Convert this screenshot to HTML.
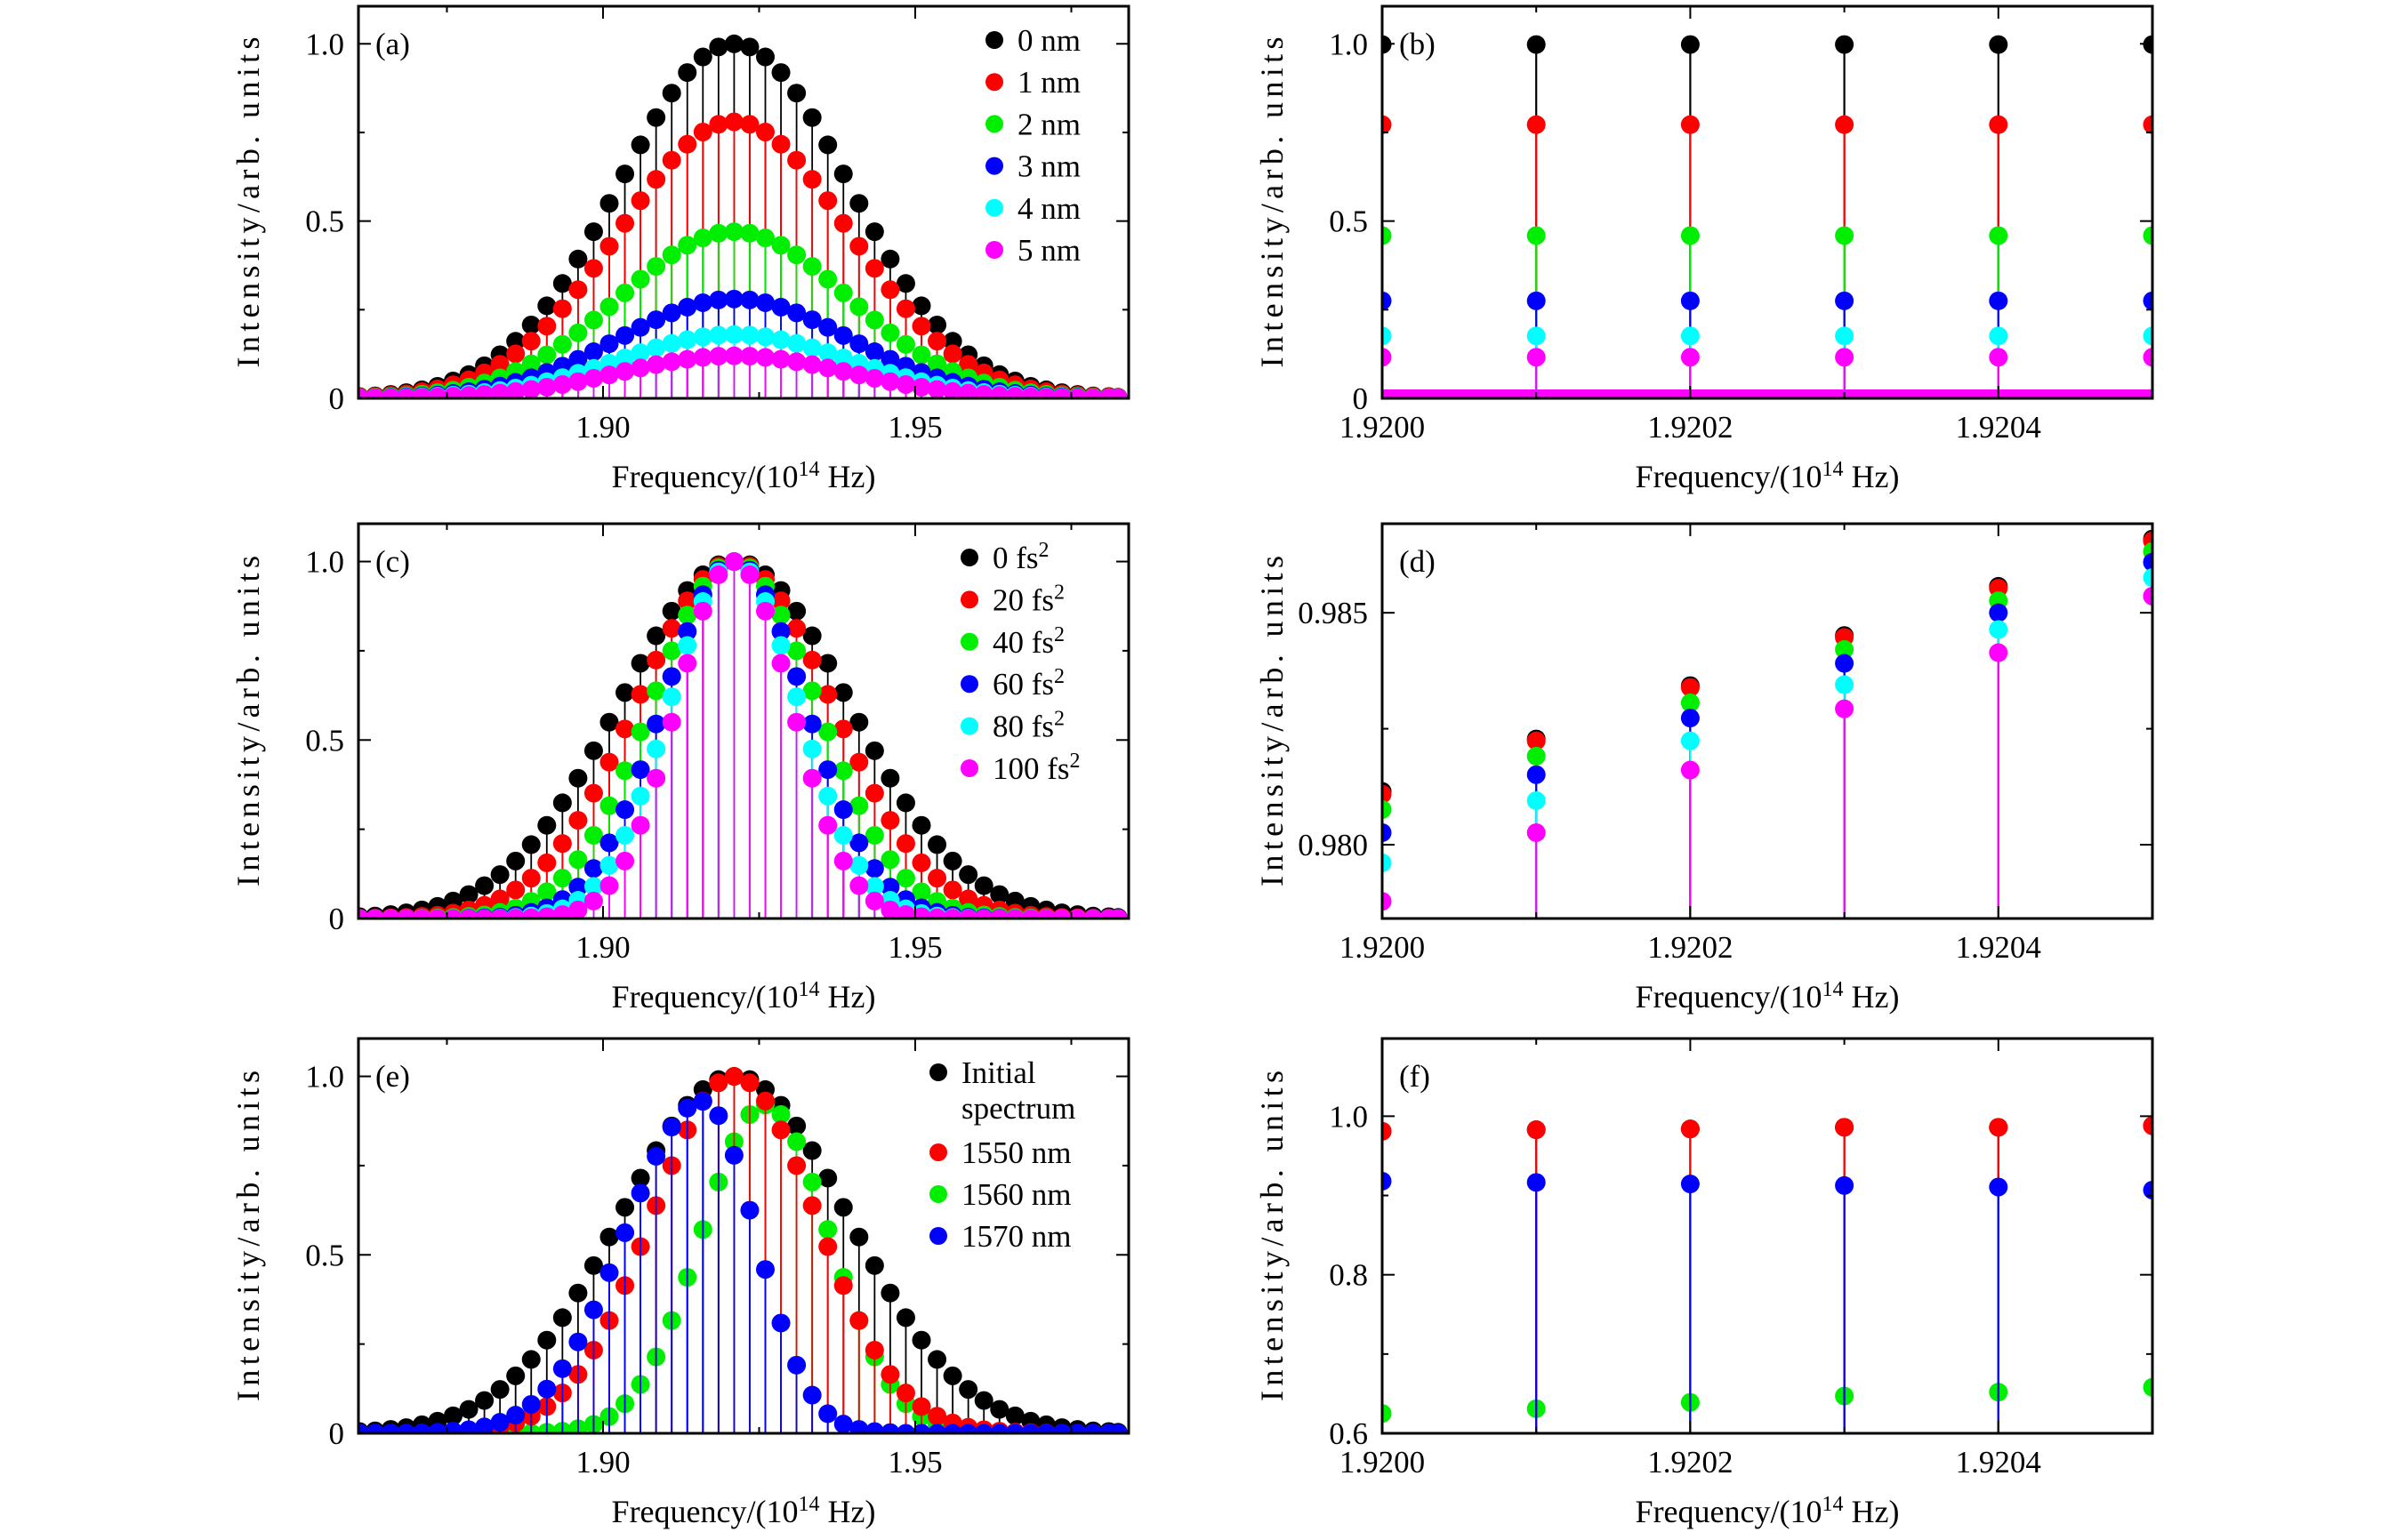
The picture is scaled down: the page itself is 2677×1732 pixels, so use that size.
<!DOCTYPE html>
<html><head><meta charset="utf-8"><style>
html,body{margin:0;padding:0;background:#fff;}
svg{display:block;}
text{font-family:"Liberation Serif",serif;fill:#000;}
</style></head><body>
<svg id="fig" xmlns="http://www.w3.org/2000/svg" width="2677" height="1732" viewBox="0 0 2677 1732"></svg>
<script>
// ---------- data ----------
const combFreqs = [1.861,1.8635,1.866,1.8685,1.871,1.8735,1.876,1.8785,1.881,1.8835,1.886,1.8885,1.891,1.8935,1.896,1.8985,1.901,1.9035,1.906,1.9085,1.911,1.9135,1.916,1.9185,1.921,1.9235,1.926,1.9285,1.931,1.9335,1.936,1.9385,1.941,1.9435,1.946,1.9485,1.951,1.9535,1.956,1.9585,1.961,1.9635,1.966,1.9685,1.971,1.9735,1.976,1.9785,1.981,1.9825];
const profileBase = [.005,.007,.011,.016,.024,.034,.049,.067,.092,.123,.161,.207,.261,.324,.393,.470,.550,.633,.715,.792,.861,.919,.963,.991,1.000,.991,.963,.919,.861,.792,.715,.633,.550,.470,.393,.324,.261,.207,.161,.123,.092,.067,.049,.034,.024,.016,.011,.007,.005,.003];
const peaksA = [1.0,0.78,0.47,0.28,0.18,0.12];
const labelsA = ["0 nm","1 nm","2 nm","3 nm","4 nm","5 nm"];
const colors6 = ["#000000","#ff0000","#00ee00","#0000ff","#00ffff","#ff00ff"];

const chirp0 = profileBase;
const chirp20 = [.001,.001,.002,.003,.006,.009,.015,.024,.037,.055,.080,.113,.156,.210,.275,.351,.438,.531,.628,.724,.813,.890,.950,.987,1,.987,.950,.890,.813,.724,.628,.531,.438,.351,.275,.210,.156,.113,.080,.055,.037,.024,.015,.009,.006,.003,.002,.001,.001,0];
const chirp40 = [0,0,0,0,.001,.002,.003,.006,.010,.017,.029,.048,.075,.113,.165,.233,.316,.414,.523,.638,.750,.850,.931,.982,1,.982,.931,.850,.750,.638,.523,.414,.316,.233,.165,.113,.075,.048,.029,.017,.010,.006,.003,.002,.001,0,0,0,0,0];
const chirp60 = [0,0,0,0,0,0,0,.001,.002,.004,.009,.017,.030,.053,.088,.140,.212,.305,.417,.545,.678,.804,.907,.976,1,.976,.907,.804,.678,.545,.417,.305,.212,.140,.088,.053,.030,.017,.009,.004,.002,.001,0,0,0,0,0,0,0,0];
const chirp80 = [0,0,0,0,0,0,0,0,0,.001,.003,.007,.014,.027,.051,.090,.149,.233,.343,.475,.621,.765,.888,.971,1,.971,.888,.765,.621,.475,.343,.233,.149,.090,.051,.027,.014,.007,.003,.001,0,0,0,0,0,0,0,0,0,0];
const chirp100 = [0,0,0,0,0,0,0,0,0,0,.001,.002,.005,.011,.024,.049,.092,.161,.261,.393,.550,.715,.861,.963,1,.963,.861,.715,.550,.393,.261,.161,.092,.049,.024,.011,.005,.002,.001,0,0,0,0,0,0,0,0,0,0,0];
const labelsC = ["0 fs","20 fs","40 fs","60 fs","80 fs","100 fs"];

const specInitial = profileBase;
const spec1550 = chirp40;
const spec1560 = [0,0,0,0,0,0,0,0,0,0,0,.001,.003,.006,.013,.025,.047,.083,.137,.214,.316,.437,.571,.704,.817,.893,.92,.893,.817,.704,.571,.437,.316,.214,.137,.083,.047,.025,.013,.006,.003,.001,0,0,0,0,0,0,0,0];
const spec1570 = [0,0,0,0,.001,.003,.006,.010,.018,.031,.051,.081,.124,.181,.256,.346,.450,.562,.673,.776,.858,.911,.93,.890,.779,.625,.459,.309,.191,.107,.055,.026,.011,.005,.002,0,0,0,0,0,0,0,0,0,0,0,0,0,0,0];

const zoomFreqs = [1.9200,1.9201,1.9202,1.9203,1.9204,1.9205];
const zoomB = [[.998,.998,.998,.998,.998,.998],[.772,.772,.772,.772,.772,.772],[.459,.459,.459,.459,.459,.459],[.275,.275,.275,.275,.275,.275],[.176,.176,.176,.176,.176,.176],[.116,.116,.116,.116,.116,.116]];
const zoomD = [[.98115,.98228,.98343,.98451,.98557,.98659],[.98109,.98224,.98339,.98447,.98553,.98655],[.98076,.98191,.98306,.98421,.98526,.98632],[.98026,.98151,.98273,.98391,.98500,.98609],[.97961,.98095,.98224,.98345,.98464,.98576],[.97878,.98026,.98161,.98293,.98414,.98536]];
const zoomFblack = [.981,.983,.984,.986,.986,.988];
const zoomFgreen = [.625,.631,.639,.647,.652,.658];
const zoomFred = [.981,.983,.984,.986,.986,.988];
const zoomFblue = [.918,.9165,.9146,.9126,.9107,.9068];

// ---------- drawing ----------
const NS="http://www.w3.org/2000/svg";
const svg=document.getElementById('fig');
function mk(tag,attrs,parent){const e=document.createElementNS(NS,tag);for(const k in attrs)e.setAttribute(k,attrs[k]);(parent||svg).appendChild(e);return e;}
let clipId=0;
const FS=35;

function panel(c){
  const g=mk('g',{});
  
  
  const X=v=>c.x0+(v-c.xmin)/(c.xmax-c.xmin)*(c.x1-c.x0);
  const Y=v=>c.y1-(v-c.ymin)/(c.ymax-c.ymin)*(c.y1-c.y0);
  const cid='clip'+(clipId++);
  const cp=mk('clipPath',{id:cid},g);
  mk('rect',{x:c.x0,y:c.y0,width:c.x1-c.x0,height:c.y1-c.y0},cp);
  const plot=mk('g',{'clip-path':'url(#'+cid+')'},g);
  
  
  if(c.band){
    const b=mk('rect',{x:c.x0,y:c.y1-10,width:c.x1-c.x0,height:10,fill:c.band},plot);
    
    
  }
  c.series.forEach((s,si)=>{
    const sg=mk('g',{},plot);
    
    
    s.vals.forEach((v,i)=>{
      const ln=mk('line',{x1:X(s.x[i]),x2:X(s.x[i]),y1:c.y1+4,y2:Y(v),stroke:s.color,'stroke-width':c.sw||1.8},sg);
      
      
    });
    s.vals.forEach((v,i)=>{
      const d=mk('circle',{cx:X(s.x[i]),cy:Y(v),r:c.r||10.5,fill:s.color},sg);
      
      
    });
  });
  const fr=mk('rect',{x:c.x0,y:c.y0,width:c.x1-c.x0,height:c.y1-c.y0,fill:'none',stroke:'#000','stroke-width':3},g);
  
  
  c.xticks.forEach((t,i)=>{
    const x=X(t);
    mk('line',{x1:x,x2:x,y1:c.y1,y2:c.y1-14,stroke:'#000','stroke-width':2},g);
    mk('line',{x1:x,x2:x,y1:c.y0,y2:c.y0+14,stroke:'#000','stroke-width':2},g);
    const tx=mk('text',{x:x,y:c.y1+44,'text-anchor':'middle','font-size':FS},g);
    tx.textContent=c.xlabels[i];
    
    
  });
  c.xminor.forEach(t=>{const x=X(t);
    mk('line',{x1:x,x2:x,y1:c.y1,y2:c.y1-7,stroke:'#000','stroke-width':2},g);
    mk('line',{x1:x,x2:x,y1:c.y0,y2:c.y0+7,stroke:'#000','stroke-width':2},g);});
  c.yticks.forEach((t,i)=>{
    const y=Y(t);
    mk('line',{x1:c.x0,x2:c.x0+14,y1:y,y2:y,stroke:'#000','stroke-width':2},g);
    mk('line',{x1:c.x1,x2:c.x1-14,y1:y,y2:y,stroke:'#000','stroke-width':2},g);
    const tx=mk('text',{x:c.x0-16,y:y+12,'text-anchor':'end','font-size':FS},g);
    tx.textContent=c.ylabels[i];
    
    
  });
  c.yminor.forEach(t=>{const y=Y(t);
    mk('line',{x1:c.x0,x2:c.x0+7,y1:y,y2:y,stroke:'#000','stroke-width':2},g);
    mk('line',{x1:c.x1,x2:c.x1-7,y1:y,y2:y,stroke:'#000','stroke-width':2},g);});
  const pl=mk('text',{x:c.x0+19,y:c.y0+54,'font-size':FS},g);
  pl.textContent='('+c.id+')';
  
  
  const cx=(c.x0+c.x1)/2, cy=(c.y0+c.y1)/2;
  const yt=mk('text',{x:0,y:12,'text-anchor':'middle','font-size':36,textLength:372,lengthAdjust:'spacing',transform:`translate(${c.x0-124},${cy}) rotate(-90)`},g);
  yt.textContent='Intensity/arb. units';
  
  
  const xt=mk('text',{x:cx,y:c.y1+100,'text-anchor':'middle','font-size':36},g);
  xt.innerHTML='Frequency/(10<tspan dy="-13" font-size="24">14</tspan><tspan dy="13"> Hz)</tspan>';
  
  
  if(c.legend){
    const lg=mk('g',{},g);
    
    
    c.legend.forEach(L=>{
      const e=mk('g',{},lg);
      
      
      if(L.color) mk('circle',{cx:L.x,cy:L.y,r:10,fill:L.color},e);
      const t=mk('text',{x:L.x+26,y:L.y+12,'font-size':FS},e);
      if(L.sup){t.innerHTML=L.text+'<tspan dy="-13" font-size="24">2</tspan>';}
      else t.textContent=L.text;
    });
  }
}
function ser(x,vals,color){return {x,vals,color};}

const L={x0:403,x1:1269,xmin:1.86083,xmax:1.98419,xticks:[1.90,1.95],xlabels:['1.90','1.95'],xminor:[1.875,1.925,1.975]};
const R={x0:1554,x1:2420,xmin:1.9200,xmax:1.9205,xticks:[1.9200,1.9202,1.9204],xlabels:['1.9200','1.9202','1.9204'],xminor:[1.9201,1.9203,1.9205],sw:2.2};
const row1={y0:7,y1:448}, row2={y0:589,y1:1033}, row3={y0:1168,y1:1612};
const unitY={ymin:0,ymax:1.106,yticks:[0,0.5,1.0],ylabels:['0','0.5','1.0'],yminor:[0.25,0.75]};

panel(Object.assign({},L,row1,unitY,{id:'a',
  series:peaksA.map((p,j)=>ser(combFreqs,profileBase.map(v=>v*p),colors6[j])),
  legend:labelsA.map((t,j)=>({x:1118,y:45+47.2*j,color:colors6[j],text:t}))}));

panel(Object.assign({},R,row1,unitY,{id:'b',band:'#ff00ff',
  series:zoomB.map((v,j)=>ser(zoomFreqs,v,colors6[j]))}));

panel(Object.assign({},L,row2,unitY,{id:'c',
  series:[chirp0,chirp20,chirp40,chirp60,chirp80,chirp100].map((v,j)=>ser(combFreqs,v,colors6[j])),
  legend:labelsC.map((t,j)=>({x:1090,y:627+47.4*j,color:colors6[j],text:t,sup:true}))}));

panel(Object.assign({},R,row2,{id:'d',ymin:0.97841,ymax:0.98692,yticks:[0.980,0.985],ylabels:['0.980','0.985'],yminor:[0.9825],
  series:zoomD.map((v,j)=>ser(zoomFreqs,v,colors6[j]))}));

panel(Object.assign({},L,row3,unitY,{id:'e',
  series:[ser(combFreqs,specInitial,'#000000'),ser(combFreqs,spec1560,'#00ee00'),ser(combFreqs,spec1550,'#ff0000'),ser(combFreqs,spec1570,'#0000ff')],
  legend:[{x:1055,y:1206,color:'#000000',text:'Initial'},{x:1055,y:1246,color:null,text:'spectrum'},{x:1055,y:1296,color:'#ff0000',text:'1550 nm'},{x:1055,y:1343,color:'#00ee00',text:'1560 nm'},{x:1055,y:1390,color:'#0000ff',text:'1570 nm'}]}));

panel(Object.assign({},R,row3,{id:'f',ymin:0.6,ymax:1.098,yticks:[0.6,0.8,1.0],ylabels:['0.6','0.8','1.0'],yminor:[0.7,0.9],
  series:[ser(zoomFreqs,zoomFblack,'#000000'),ser(zoomFreqs,zoomFgreen,'#00ee00'),ser(zoomFreqs,zoomFred,'#ff0000'),ser(zoomFreqs,zoomFblue,'#0000ff')]}));
</script>
</body></html>
